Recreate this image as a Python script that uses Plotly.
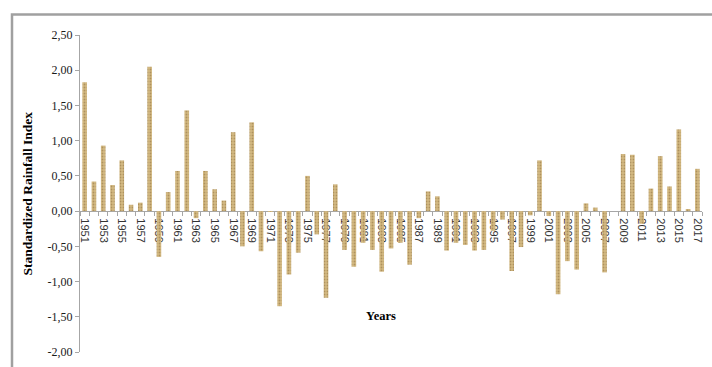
import plotly.graph_objects as go

# Standardized Rainfall Index per year
years = list(range(1951, 2018))
sri = [
    1.83, 0.42, 0.93, 0.37, 0.72, 0.09, 0.12, 2.05, -0.65, 0.27,   # 1951-1960
    0.57, 1.43, -0.10, 0.57, 0.31, 0.15, 1.12, -0.50, 1.26, -0.57,  # 1961-1970
    -0.01, -1.35, -0.90, -0.59, 0.50, -0.33, -1.23, 0.38, -0.55, -0.79,  # 1971-1980
    -0.45, -0.55, -0.86, -0.53, -0.45, -0.76, -0.10, 0.28, 0.21, -0.56,  # 1981-1990
    -0.45, -0.48, -0.56, -0.55, -0.28, -0.12, -0.85, -0.51, -0.06, 0.72,  # 1991-2000
    -0.07, -1.18, -0.71, -0.83, 0.11, 0.05, -0.87, 0.00, 0.81, 0.80,   # 2001-2010
    -0.18, 0.32, 0.78, 0.35, 1.16, 0.03, 0.60,                        # 2011-2017
]

y_ticks = [-2.0, -1.5, -1.0, -0.5, 0.0, 0.5, 1.0, 1.5, 2.0, 2.5]
y_tick_text = ["-2,00", "-1,50", "-1,00", "-0,50", "0,00", "0,50", "1,00", "1,50", "2,00", "2,50"]
x_label_years = list(range(1951, 2018, 2))

W, H = 712, 367
L, R, T, B = 80, 10, 35, 8
pw, ph = W - L - R, H - T - B

def px_x(px):
    return (px - L) / pw

def px_y(py):
    return (H - B - py) / ph

fig = go.Figure()
fig.add_trace(go.Bar(
    x=years,
    y=sri,
    width=0.5,
    marker=dict(
        color="#d3b982",
        line=dict(width=0),
        pattern=dict(shape=".", fgcolor="#8a6a38", size=3, solidity=0.3, fillmode="overlay"),
    ),
))

axis_grey = "#a6a6a6"
y_min, y_max = -2.0, 2.5

fig.update_layout(
    width=W, height=H,
    margin=dict(l=L, r=R, t=T, b=B, pad=0),
    paper_bgcolor="white",
    plot_bgcolor="white",
    showlegend=False,
    xaxis=dict(
        range=[1950.5, 2017.5],
        anchor="free",
        position=(0 - y_min) / (y_max - y_min),
        showline=True, linecolor=axis_grey, linewidth=1,
        showgrid=False, zeroline=False,
        tickmode="array",
        tickvals=x_label_years,
        ticktext=[str(v) for v in x_label_years],
        ticks="outside", ticklen=4, tickcolor="rgba(0,0,0,0)",
        tickangle=90,
        tickfont=dict(family="Liberation Sans, Arial, sans-serif", size=11, color="#333333"),
        minor=dict(tick0=1950.5, dtick=1, ticks="outside", ticklen=4, tickcolor=axis_grey, showgrid=False),
        layer="below traces",
    ),
    yaxis=dict(
        range=[y_min, y_max],
        showline=True, linecolor=axis_grey, linewidth=1,
        showgrid=False, zeroline=False,
        tickmode="array",
        tickvals=y_ticks,
        ticktext=y_tick_text,
        ticks="outside", ticklen=4, tickcolor=axis_grey,
        tickfont=dict(family="Liberation Serif, Times New Roman, serif", size=12, color="#1a1a1a"),
    ),
    annotations=[
        dict(text="<b>Standardized Rainfall Index</b>", xref="paper", yref="paper",
             x=px_x(27), y=px_y(197), xanchor="center", yanchor="middle", textangle=-90,
             showarrow=False,
             font=dict(family="Liberation Serif, Times New Roman, serif", size=13.5, color="#000000")),
        dict(text="<b>Years</b>", xref="paper", yref="paper",
             x=px_x(381), y=px_y(322), xanchor="center", yanchor="middle",
             showarrow=False,
             font=dict(family="Liberation Serif, Times New Roman, serif", size=12.5, color="#000000")),
    ],
    shapes=[
        dict(type="rect", xref="paper", yref="paper",
             x0=px_x(12), x1=px_x(760), y0=px_y(420), y1=px_y(14),
             line=dict(color="#a0a0a0", width=2.5), fillcolor="rgba(0,0,0,0)", layer="below"),
    ],
)

fig.write_html("out.html")
